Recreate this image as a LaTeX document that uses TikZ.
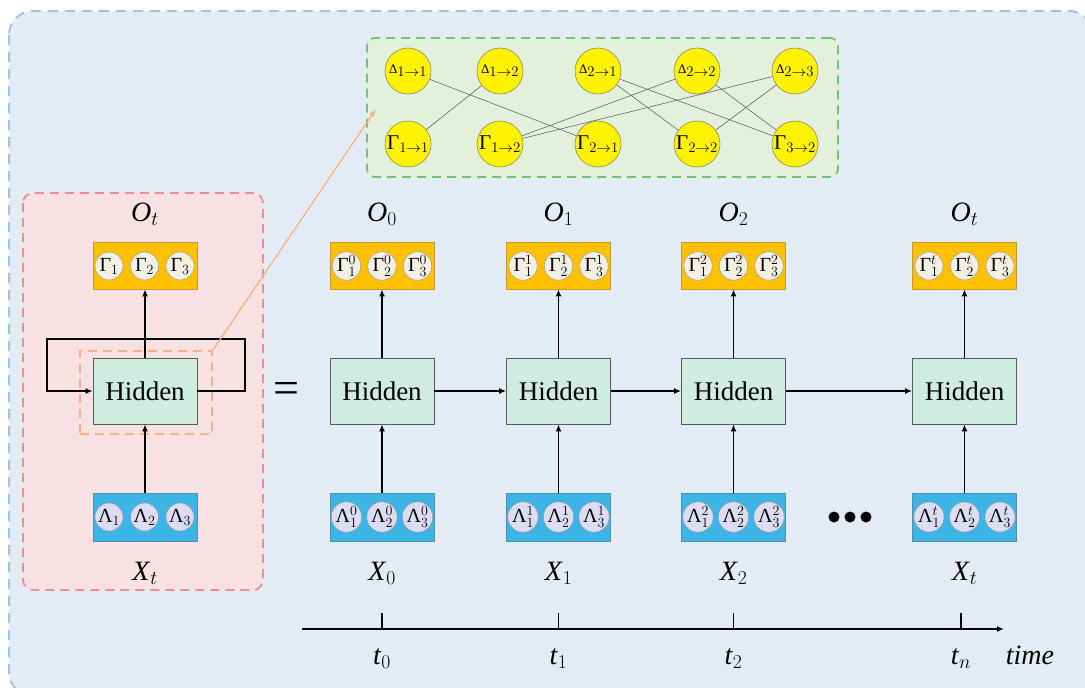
\RequirePackage{fix-cm}
\documentclass[tikz,border=0pt]{standalone}
\usepackage{fontspec}
\setmainfont{Liberation Serif}
\usetikzlibrary{arrows.meta}

\definecolor{outerfill}{HTML}{E3EBF5}
\definecolor{outerline}{HTML}{9EC5E8}
\definecolor{redfill}{HTML}{F8E1E2}
\definecolor{redline}{HTML}{EC8F8F}
\definecolor{greenfill}{HTML}{E3F0DC}
\definecolor{greenline}{HTML}{70C66A}
\definecolor{orangeline}{HTML}{F5B183}
\definecolor{hidfill}{HTML}{CEEDE0}
\definecolor{boxline}{HTML}{5A5A5A}
\definecolor{outfill}{HTML}{FFC000}
\definecolor{outline}{HTML}{BF9A30}
\definecolor{infill}{HTML}{3CB4E6}
\definecolor{inline}{HTML}{4F8FAF}
\definecolor{gamfill}{HTML}{F2F0E3}
\definecolor{lamfill}{HTML}{DCDCF2}
\definecolor{circline}{HTML}{9A9A9A}
\definecolor{yelline}{HTML}{8A8A50}

\tikzset{
  outerbox/.style={draw=outerline, fill=outerfill, line width=2pt, dash pattern=on 10pt off 7pt, rounded corners=24pt},
  redbox/.style={draw=redline, fill=redfill, line width=1.8pt, dash pattern=on 9pt off 6pt, rounded corners=10pt},
  greenbox/.style={draw=greenline, fill=greenfill, line width=1.8pt, dash pattern=on 9pt off 6pt, rounded corners=8pt, inner sep=0pt},
  zoombox/.style={draw=orangeline, line width=1.8pt, dash pattern=on 9pt off 6pt, inner sep=0pt},
  hid/.style={draw=boxline, fill=hidfill, line width=0.8pt, minimum width=104pt, minimum height=66pt, inner sep=0pt, font=\fontsize{27}{27}\selectfont},
  obox/.style={draw=outline, fill=outfill, line width=0.8pt, minimum width=104pt, minimum height=47pt, inner sep=0pt},
  ibox/.style={draw=inline, fill=infill, line width=0.8pt, minimum width=104pt, minimum height=48pt, inner sep=0pt},
  gcirc/.style={circle, draw=circline, fill=gamfill, line width=0.5pt, minimum size=28pt, inner sep=0pt, font=\fontsize{20}{20}\selectfont},
  lcirc/.style={circle, draw=circline, fill=lamfill, line width=0.5pt, minimum size=28pt, inner sep=0pt, font=\fontsize{20}{20}\selectfont},
  ycirc/.style={circle, draw=yelline, fill=yellow, line width=0.6pt, minimum size=46pt, inner sep=0pt, font=\fontsize{21}{21}\selectfont},
  lbl/.style={inner sep=0pt, font=\fontsize{28}{28}\selectfont},
  arr/.style={line width=1.6pt, -{Latex[length=7pt,width=6pt]}},
  link/.style={draw=black!60, line width=0.6pt},
  zoomarrow/.style={draw=orangeline, line width=1.2pt, -{Latex[length=8pt,width=6pt]}},
}

\begin{document}
\begin{tikzpicture}[x=1pt,y=-1pt]
\useasboundingbox (0,0) rectangle (1085,688);

% outer panel, running past the right and bottom edges
\begin{scope}
  \clip (0,0) rectangle (1085,688);
  \draw[outerbox] (9,11) rectangle (1093,696);
\end{scope}

% folded (recurrent) view
\draw[redbox] (23,193) rectangle (263,590);

% detail panel with the relation graph
\node[greenbox, minimum width=471pt, minimum height=139pt] (detail) at (602.5,107.5) {};

% ---- folded network ----
\node[zoombox, minimum width=132pt, minimum height=83pt] (zoom) at (146,392.5) {};
\node[hid] (hL) at (145,391) {Hidden};
\node[obox] (oL) at (145,265.5) {};
\node[gcirc] (oL1) at (109,266) {Γ$_1$};
\node[gcirc] (oL2) at (144.5,266) {Γ$_2$};
\node[gcirc] (oL3) at (180,266) {Γ$_3$};
\node[ibox] (iL) at (145,517) {};
\node[lcirc] (iL1) at (109,517) {Λ$_1$};
\node[lcirc] (iL2) at (144.5,517) {Λ$_2$};
\node[lcirc] (iL3) at (180,517) {Λ$_3$};
\node[lbl] (OL) at (145,214) {\textit{O}$_t$};
\node[lbl] (XL) at (145,573) {\textit{X}$_t$};

\coordinate (lpR1) at (245,391);
\coordinate (lpR2) at (245,339);
\coordinate (lpL1) at (47,339);
\coordinate (lpL2) at (47,391);
\draw[arr] (hL.east) -- (lpR1) -- (lpR2) -- (lpL1) -- (lpL2) -- (hL.west);
\draw[arr] (hL.north) -- (oL.south);
\draw[arr] (iL.north) -- (hL.south);

\coordinate (ztip) at (376,109);
\draw[zoomarrow] (zoom.north east) -- (ztip);

\node[inner sep=0pt, font=\fontsize{46}{46}\selectfont] (eq) at (286,393) {=};

% ---- unfolded network ----
\foreach \i/\x/\s in {0/382/0, 1/558.5/1, 2/733.5/2, 3/964.5/t}{
  \node[hid] (h\i) at (\x,391) {Hidden};
  \node[obox] (o\i) at (\x,265.5) {};
  \node[gcirc] (o\i a) at (\x-35.5,266) {Γ$^{\s}_1$};
  \node[gcirc] (o\i b) at (\x,266) {Γ$^{\s}_2$};
  \node[gcirc] (o\i c) at (\x+35.5,266) {Γ$^{\s}_3$};
  \node[ibox] (i\i) at (\x,517) {};
  \node[lcirc] (i\i a) at (\x-35.5,517) {Λ$^{\s}_1$};
  \node[lcirc] (i\i b) at (\x,517) {Λ$^{\s}_2$};
  \node[lcirc] (i\i c) at (\x+35.5,517) {Λ$^{\s}_3$};
  \node[lbl] (O\i) at (\x,214) {\textit{O}$_{\s}$};
  \node[lbl] (X\i) at (\x,573) {\textit{X}$_{\s}$};
  \draw[arr] (h\i.north) -- (o\i.south);
  \draw[arr] (i\i.north) -- (h\i.south);
}
\draw[arr] (h0.east) -- (h1.west);
\draw[arr] (h1.east) -- (h2.west);
\draw[arr] (h2.east) -- (h3.west);

% ellipsis between the last two steps
\fill (834,517) circle (5.5pt);
\fill (850,517) circle (5.5pt);
\fill (866,517) circle (5.5pt);

% ---- time axis ----
\coordinate (ax0) at (302,629);
\coordinate (ax1) at (1004,629);
\draw[arr] (ax0) -- (ax1);
\foreach \x/\s/\n in {382/0/k0, 558.5/1/k1, 733.5/2/k2, 961/n/kn}{
  \draw[line width=1.8pt] (\x,629) -- (\x,613);
  \node[lbl] (\n) at (\x,659) {\textit{t}$_{\s}$};
}
\node[lbl] (timelbl) at (1030,655) {\textit{time}};

% ---- relation graph ----
\node[ycirc] (d11) at (408,71) {{\fontsize{13}{13}\selectfont Δ}$_{1\to 1}$};
\node[ycirc] (d12) at (500,71) {{\fontsize{13}{13}\selectfont Δ}$_{1\to 2}$};
\node[ycirc] (d21) at (598,71) {{\fontsize{13}{13}\selectfont Δ}$_{2\to 1}$};
\node[ycirc] (d22) at (697,71) {{\fontsize{13}{13}\selectfont Δ}$_{2\to 2}$};
\node[ycirc] (d23) at (795,71) {{\fontsize{13}{13}\selectfont Δ}$_{2\to 3}$};
\node[ycirc] (g11) at (408,144) {Γ$_{1\to 1}$};
\node[ycirc] (g12) at (500,144) {Γ$_{1\to 2}$};
\node[ycirc] (g21) at (598,144) {Γ$_{2\to 1}$};
\node[ycirc] (g22) at (697,144) {Γ$_{2\to 2}$};
\node[ycirc] (g32) at (795,144) {Γ$_{3\to 2}$};

\draw[link] (d11) -- (g21);
\draw[link] (d12) -- (g11);
\draw[link] (d21) -- (g22);
\draw[link] (d21) -- (g32);
\draw[link] (d22) -- (g12);
\draw[link] (d22) -- (g32);
\draw[link] (d23) -- (g12);
\draw[link] (d23) -- (g22);
\end{tikzpicture}
\end{document}
